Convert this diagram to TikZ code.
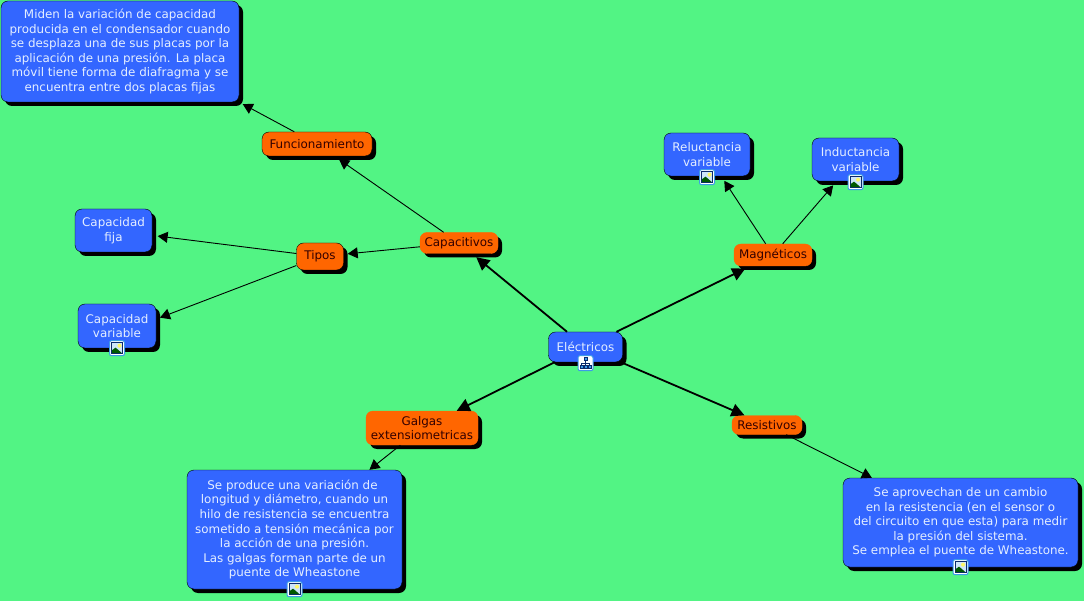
\documentclass[tikz,border=0pt]{standalone}
\usepackage{fontspec}
\usepackage{xcolor}
\usepackage{tikz}
\usetikzlibrary{arrows.meta,shadows}
\setmainfont{DejaVu Sans}
\definecolor{fondo}{HTML}{52F484}
\definecolor{azul}{HTML}{3366FF}
\definecolor{naranja}{HTML}{FF6600}
\definecolor{textoazul}{HTML}{E4EEFF}
\definecolor{textonar}{HTML}{330000}
\definecolor{marino}{HTML}{0B2A6B}
\definecolor{borde}{HTML}{3D9BE8}

\begin{document}
\begin{tikzpicture}[
  x=1pt, y=-1pt,
  box/.style={rounded corners=7pt, align=center, inner sep=0pt,
    font=\fontsize{11.9}{14.6}\selectfont,
    drop shadow={shadow xshift=4pt, shadow yshift=-4pt, opacity=1, fill=black}},
  blue/.style={box, draw=black, fill=azul, text=textoazul},
  tema/.style={box, draw=naranja, fill=naranja, text=textonar},
  temab/.style={tema, draw=black},
  main/.style={-{Triangle[length=13pt,width=13pt]}, line width=1.8pt, draw=black},
  sub/.style={-{Triangle[length=10pt,width=11pt]}, line width=0.9pt, draw=black},
  % -- the tips stop on the shadow, not on the border
  sombra/.style={shorten >=5.5pt},
  imgicon/.pic={
    \draw[borde, fill=white, rounded corners=2pt, line width=1pt] (-7.5,-7.5) rectangle (7.5,7.5);
    \draw[marino, fill=white!75!borde, line width=1pt] (-5.5,-5.5) rectangle (5.5,5.5);
    \fill[yellow!60!white] (2.5,-2.5) circle (2pt);
    \fill[green!35!black] (-5,5) -- (-5,2) -- (-1.5,-0.5) -- (1,1.5) -- (5,5) -- cycle;
  },
  treeicon/.pic={
    \draw[borde, fill=white, rounded corners=2pt, line width=1pt] (-7.5,-7.5) rectangle (7.5,7.5);
    \draw[marino, line width=1pt] (0,-3) -- (0,3) (-4,4) -- (-4,0.5) -- (4,0.5) -- (4,4);
    \draw[marino, fill=borde, line width=0.9pt] (-1.5,-5.5) rectangle (1.5,-2.5);
    \draw[marino, fill=borde, line width=0.9pt] (-5.5,2.5) rectangle (-2.5,5.5);
    \draw[marino, fill=borde, line width=0.9pt] (-1.5,2.5) rectangle (1.5,5.5);
    \draw[marino, fill=borde, line width=0.9pt] (2.5,2.5) rectangle (5.5,5.5);
  }
]

\path[use as bounding box, fill=fondo] (0,0) rectangle (1084,601);

\node[blue, minimum width=74pt, minimum height=30pt] (electricos) at (585.5,347) {Eléctricos};

\node[tema, minimum width=78pt, minimum height=21pt] (capacitivos) at (459,243) {Capacitivos};
\node[tema, minimum width=78pt, minimum height=22pt] (magneticos) at (773,255) {Magnéticos};
\node[tema, minimum width=70pt, minimum height=19pt] (resistivos) at (767,425) {Resistivos};
\node[tema, minimum width=112pt, minimum height=34pt] (galgas) at (422,428) {Galgas\\extensiometricas};

\node[temab, minimum width=110pt, minimum height=24pt] (funcionamiento) at (317,144) {Funcionamiento};
\node[temab, minimum width=47pt, minimum height=27pt] (tipos) at (320,256.5) {Tipos};

\node[blue, minimum width=238pt, minimum height=101pt] (miden) at (120,51.5) {Miden la variación de capacidad\\
  producida en el condensador cuando\\
  se desplaza una de sus placas por la\\
  aplicación de una presión. La placa\\
  móvil tiene forma de diafragma y se\\
  encuentra entre dos placas fijas};
\node[blue, minimum width=77pt, minimum height=43pt] (fija) at (113.5,230.5) {Capacidad\\fija};
\node[blue, minimum width=78pt, minimum height=44pt] (variable) at (117,326) {Capacidad\\variable};
\node[blue, minimum width=86pt, minimum height=43pt] (reluctancia) at (707,154.5) {Reluctancia\\variable};
\node[blue, minimum width=87pt, minimum height=43pt] (inductancia) at (855.5,159.5) {Inductancia\\variable};
\node[blue, minimum width=215pt, minimum height=119pt] (produce) at (294.5,529.5) {Se produce una variación de\hspace*{4pt}\\
  longitud y diámetro, cuando un\\
  hilo de resistencia se encuentra\\
  sometido a tensión mecánica por\\
  la acción de una presión.\\
  Las galgas forman parte de un\hspace*{4pt}\\
  puente de Wheastone};
\node[blue, minimum width=235pt, minimum height=89pt] (aprovechan) at (960.5,522.5) {Se aprovechan de un cambio\\
  en la resistencia (en el sensor o\\
  del circuito en que esta) para medir\\
  la presión del sistema.\\
  Se emplea el puente de Wheastone.};

\draw[main, sombra] (electricos) -- (capacitivos);
\draw[main, sombra] (electricos) -- (magneticos);
\draw[main] (electricos) -- (galgas);
\draw[main] (electricos) -- (resistivos);
\draw[sub, sombra] (capacitivos) -- (funcionamiento);
\draw[sub, shorten >=4pt] (capacitivos) -- (tipos);
\draw[sub, shorten >=4pt] (funcionamiento) -- (miden.south east);
\draw[sub, sombra] (tipos) -- (fija);
\draw[sub, shorten >=4pt] (tipos) -- (variable.10);
\draw[sub, sombra] (magneticos) -- (reluctancia);
\draw[sub, sombra] (magneticos) -- (inductancia);
\draw[sub] (galgas) -- (produce);
\draw[sub] (resistivos) -- (aprovechan);

\pic at ([yshift=-1pt]electricos.south) {treeicon};
\pic at (variable.south) {imgicon};
\pic at ([yshift=-1pt]reluctancia.south) {imgicon};
\pic at ([yshift=-1pt]inductancia.south) {imgicon};
\pic at (produce.south) {imgicon};
\pic at (aprovechan.south) {imgicon};

\end{tikzpicture}
\end{document}
